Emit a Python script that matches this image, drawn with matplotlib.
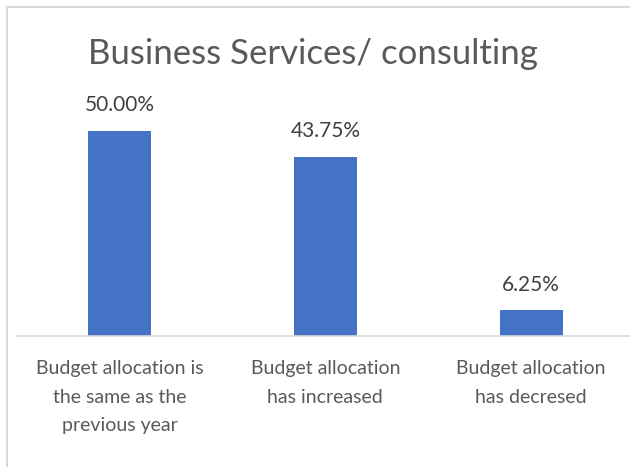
import numpy as np
import matplotlib.pyplot as plt

categories = ["Budget allocation is\nthe same as the\nprevious year",
              "Budget allocation\nhas increased",
              "Budget allocation\nhas decresed"]
values = [50.00, 43.75, 6.25]
value_labels = ["50.00%", "43.75%", "6.25%"]

plt.rcParams['font.family'] = ['Lato', 'DejaVu Sans']
txt_color = '#595959'

fig = plt.figure(figsize=(6.3, 4.67), dpi=100)
ax = fig.add_axes([16.6 / 630, 131 / 467, 617.4 / 630, 246 / 467])

x = np.arange(len(values))
bars = ax.bar(x, values, width=0.306, color='#4472C4')
for b, lab in zip(bars, value_labels):
    ax.text(b.get_x() + b.get_width() / 2, b.get_height() + 3.8, lab,
            ha='center', va='bottom', fontsize=15, color='#404040')

ax.set_xlim(-0.5, 2.5)
ax.set_ylim(0, 60)
ax.set_yticks([])
ax.set_xticks(x)
ax.set_xticklabels(categories, fontsize=14, color=txt_color, linespacing=1.85)
ax.tick_params(axis='x', length=0, pad=17)
for s in ['top', 'right', 'left']:
    ax.spines[s].set_visible(False)
ax.spines['bottom'].set_color('#d9d9d9')
ax.spines['bottom'].set_linewidth(1.2)

fig.text(0.497, 0.885, "Business Services/ consulting", ha='center', va='center',
         fontsize=25, color=txt_color)

# outer chart border (left and top edges only)
fig.add_artist(plt.Line2D([7 / 630, 7 / 630], [0, 1 - 7 / 467], transform=fig.transFigure,
                          color='#d9d9d9', lw=1.5))
fig.add_artist(plt.Line2D([7 / 630, 1], [1 - 7 / 467, 1 - 7 / 467], transform=fig.transFigure,
                          color='#d9d9d9', lw=1.5))

fig.savefig('out.png', dpi=100)
